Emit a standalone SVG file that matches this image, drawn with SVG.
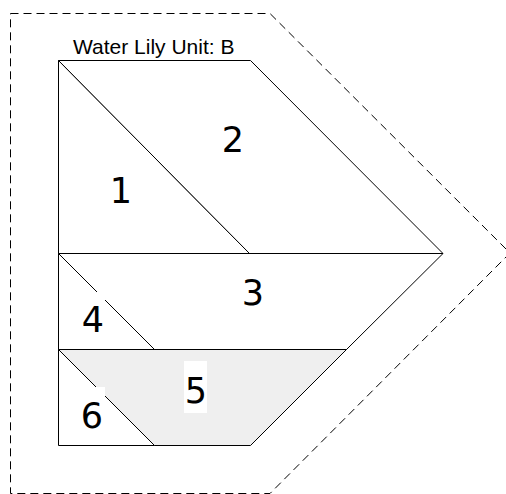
<svg xmlns="http://www.w3.org/2000/svg" width="506" height="494" viewBox="0 0 506 494">
<style>
.piece{stroke:#000;stroke-width:1;fill:#fff;stroke-linejoin:miter}
.shade{fill:#efefef}
.num{font-family:"DejaVu Sans",sans-serif;font-size:35px;fill:#000;text-anchor:middle}
.box{fill:#fff;stroke:none}
.title{font-family:"Liberation Sans",Arial,sans-serif;font-size:21px;fill:#000}
.outline{fill:none;stroke:#000;stroke-width:1;stroke-dasharray:8,5}
</style>
<rect width="506" height="494" fill="#fff"/>
<g id="outline"><polygon class="outline" points="10.5,13.5 270,13.5 510,253 270,493.5 10.5,493.5"/></g>
<text class="title" x="73" y="54">Water Lily Unit: B</text>
<g id="piece1"><polygon class="piece" points="58.5,60.5 249.5,253.5 58.5,253.5"/><text class="num" x="121" y="203">1</text></g>
<g id="piece2"><polygon class="piece" points="58.5,60.5 250.5,60.5 443,253.5 249.5,253.5"/><text class="num" x="233" y="152">2</text></g>
<g id="piece3"><polygon class="piece" points="58.5,253.5 443,253.5 346.5,349.5 154.5,349.5"/><text class="num" x="253" y="305">3</text></g>
<g id="piece4"><polygon class="piece" points="58.5,253.5 154.5,349.5 58.5,349.5"/><rect class="box" x="82" y="292" width="23" height="52"/><text class="num" x="93" y="332">4</text></g>
<g id="piece5"><polygon class="piece shade" points="58.5,349.5 346.5,349.5 250.5,445.5 154.5,445.5"/><rect class="box" x="184" y="361" width="23" height="52"/><text class="num" x="196" y="403">5</text></g>
<g id="piece6"><polygon class="piece" points="58.5,349.5 154.5,445.5 58.5,445.5"/><rect class="box" x="82" y="387" width="23" height="52"/><text class="num" x="92" y="428">6</text></g>
<g id="connectors"></g>
</svg>
